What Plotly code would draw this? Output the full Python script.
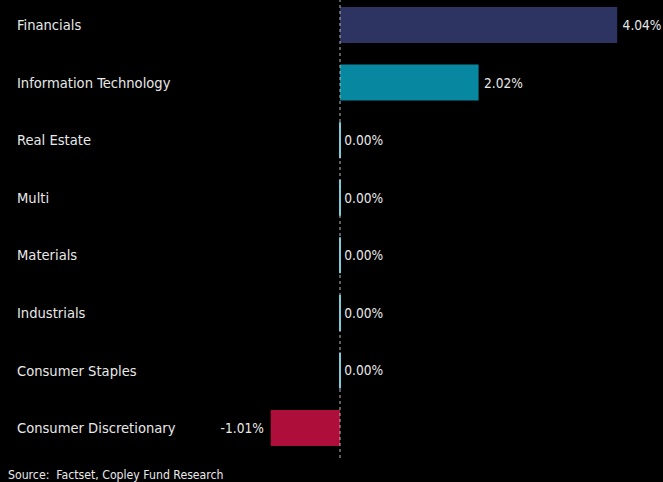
import plotly.graph_objects as go

sectors = ["Financials", "Information Technology", "Real Estate", "Multi",
           "Materials", "Industrials", "Consumer Staples", "Consumer Discretionary"]
values = [4.04, 2.02, 0.00, 0.00, 0.00, 0.00, 0.00, -1.01]
colors = ["#2e3461", "#0787a0", "#6fcfdf", "#6fcfdf", "#6fcfdf", "#6fcfdf", "#6fcfdf", "#ae0f3a"]
line_w = [0 if v != 0 else 2 for v in values]

FONT = "DejaVu Sans Condensed"
TXT = "#e8e8e8"

labels = [("\u2009" + f"{v:.2f}%") if v > 0 else (("\u200a" + f"{v:.2f}%") if v == 0 else (f"{v:.2f}%" + "\u00a0")) for v in values]

fig = go.Figure(go.Bar(
    x=values, y=sectors, orientation="h",
    marker=dict(color=colors, line=dict(color=colors, width=line_w)),
    width=0.625,
    text=labels,
    textposition="outside",
    textfont=dict(family=FONT, size=13.6, color=TXT),
    cliponaxis=False,
))

fig.add_shape(type="line", xref="x", yref="paper", x0=0, x1=0, y0=0, y1=1,
              line=dict(color="#bbbbbb", width=1, dash="dot"))

fig.add_annotation(text="Source:  Factset, Copley Fund Research", xref="paper", yref="paper",
                   x=6/663, y=0, xanchor="left", yanchor="top", yshift=-8, showarrow=False,
                   font=dict(family=FONT, size=12.2, color=TXT))

fig.update_layout(
    width=663, height=482,
    paper_bgcolor="black", plot_bgcolor="black",
    margin=dict(l=0, r=0, t=0, b=24),
    showlegend=False,
    xaxis=dict(range=[-4.956, 4.708], visible=False, showgrid=False, zeroline=False),
    yaxis=dict(categoryorder="array", categoryarray=sectors, range=[7.52, -0.434],
               showgrid=False, zeroline=False, showline=False, ticks="",
               ticklabelposition="inside", ticklabelstandoff=14,
               tickfont=dict(family=FONT, size=14.6, color=TXT)),
    font=dict(family=FONT, color=TXT),
)

fig.write_html("out.html", config={"displayModeBar": False},
               post_script="document.body.style.margin='0';document.body.style.background='black';")
